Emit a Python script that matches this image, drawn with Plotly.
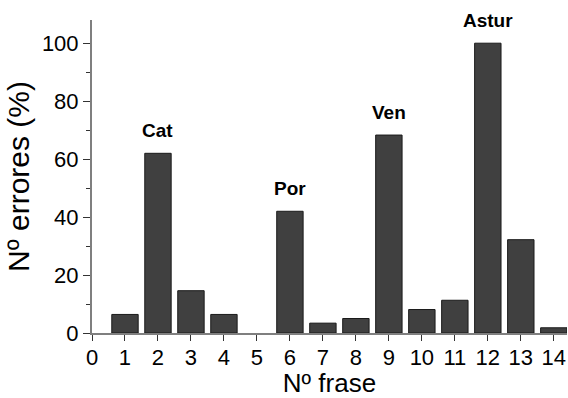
import plotly.graph_objects as go

frases = list(range(1, 15))
errores = [6.4, 62, 14.6, 6.4, 0, 42, 3.4, 5.0, 68.3, 8.1, 11.3, 100, 32.2, 1.8]
etiquetas_x = [2, 6, 9, 12]
etiquetas = ["Cat", "Por", "Ven", "Astur"]
x_ticks = list(range(0, 15))
y_ticks = [0, 20, 40, 60, 80, 100]

fig = go.Figure()
fig.add_trace(go.Bar(
    x=frases, y=errores, width=0.8,
    marker=dict(color="#404040",
                line=dict(color="#1a1a1a", width=[1 if v > 0 else 0 for v in errores])),
    showlegend=False,
))

for xv, t in zip(etiquetas_x, etiquetas):
    fig.add_annotation(
        x=xv, y=errores[frases.index(xv)], text="<b>%s</b>" % t,
        showarrow=False, yanchor="bottom", yshift=10,
        font=dict(family="Liberation Sans, Arial", size=19, color="#000"),
    )

fig.update_layout(
    width=568, height=398,
    margin=dict(l=92, r=1, t=20, b=65, autoexpand=False),
    paper_bgcolor="white", plot_bgcolor="white",
    font=dict(family="Liberation Sans, Arial", color="#000"),
    bargap=0.2,
)
fig.update_xaxes(
    range=[0, 14.4], tickvals=x_ticks, ticktext=[str(v) for v in x_ticks],
    showgrid=False, zeroline=False, automargin=False,
    showline=True, linecolor="#7f7f7f", linewidth=2,
    ticks="outside", ticklen=6, tickcolor="#333", tickwidth=1,
    tickfont=dict(size=22), ticklabelstandoff=-2,
    title=dict(text="Nº frase", font=dict(size=26), standoff=8),
)
fig.update_yaxes(
    range=[0, 108], tickvals=y_ticks,
    showgrid=False, zeroline=False, automargin=False,
    showline=True, linecolor="#7f7f7f", linewidth=2,
    ticks="outside", ticklen=7, tickcolor="#333", tickwidth=1,
    minor=dict(dtick=10, ticks="outside", ticklen=4, tickcolor="#333", showgrid=False),
    tickfont=dict(size=22),
    title=dict(text="Nº errores (%)", font=dict(size=30), standoff=3),
)

fig.write_html("out.html", config={"displayModeBar": False},
               post_script="document.body.style.margin='0';")
